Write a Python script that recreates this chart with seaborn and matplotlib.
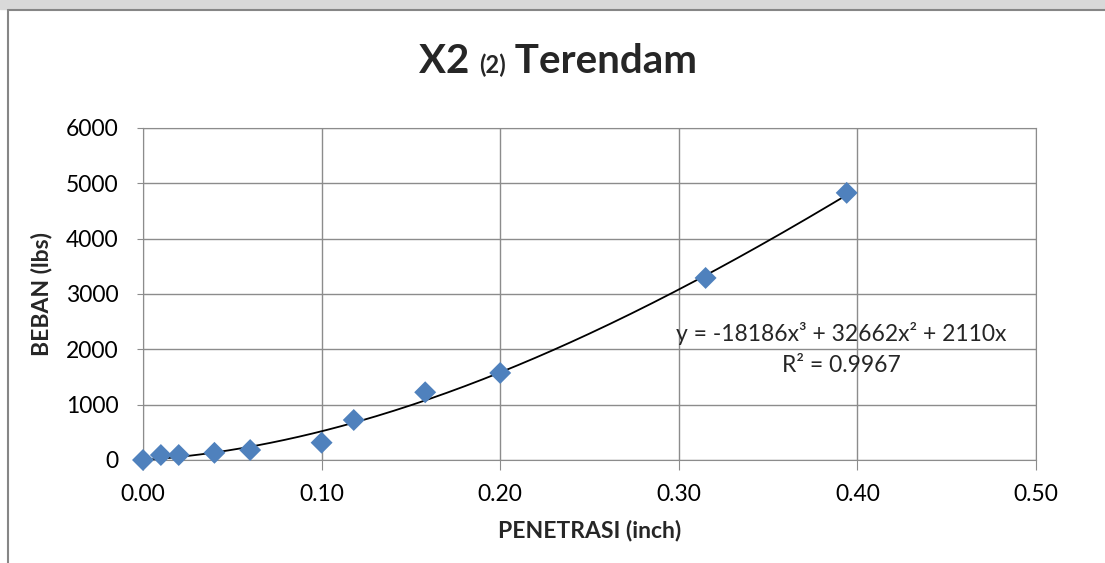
import numpy as np
import pandas as pd
import matplotlib
matplotlib.use("Agg")
import matplotlib.pyplot as plt
import seaborn as sns
from matplotlib.patches import Rectangle
from matplotlib.lines import Line2D

# --- data ---
penetrasi = [0.0, 0.01, 0.02, 0.04, 0.06, 0.10, 0.118, 0.158, 0.20, 0.315, 0.394]
beban = [0, 90, 90, 130, 180, 313, 723, 1224, 1573, 3290, 4828]

# trendline coefficients (as printed on the chart)
coef = [-18186, 32662, 2110, 0]
r2_text = "R² = 0.9967"
eq_text = "y = -18186x³ + 32662x² + 2110x"

x_ticks = [0.0, 0.1, 0.2, 0.3, 0.4, 0.5]
y_ticks = [0, 1000, 2000, 3000, 4000, 5000, 6000]

df = pd.DataFrame({"penetrasi": penetrasi, "beban": beban})
xs = np.linspace(0, max(penetrasi), 200)
trend = pd.DataFrame({"x": xs, "y": np.polyval(coef, xs)})

sns.set_style("white")
plt.rcParams["font.family"] = ["Lato", "DejaVu Sans"]

fig = plt.figure(figsize=(11.05, 5.63), dpi=100)
ax = fig.add_axes([143 / 1105, 1 - 460 / 563, (1036 - 143) / 1105, (460 - 128) / 563])

# outer frame like the excel chart area
fig.patches.append(Rectangle((0, 1 - 9 / 563), 1, 9 / 563, transform=fig.transFigure,
                             color="#d9d9d9", zorder=0))
fig.lines.append(Line2D([8 / 1105, 1], [1 - 10 / 563, 1 - 10 / 563], transform=fig.transFigure,
                        color="#868686", lw=1.5))
fig.lines.append(Line2D([8 / 1105, 8 / 1105], [0, 1 - 10 / 563], transform=fig.transFigure,
                        color="#868686", lw=1.5))

sns.lineplot(data=trend, x="x", y="y", ax=ax, color="black", lw=1.3, zorder=3)
sns.scatterplot(data=df, x="penetrasi", y="beban", ax=ax, marker="D", s=125,
                color="#4f81bd", edgecolor="none", zorder=4, clip_on=False)

ax.set_xlim(0, 0.5)
ax.set_ylim(0, 6000)
ax.set_xticks(x_ticks)
ax.set_yticks(y_ticks)
ax.set_xticklabels([f"{v:.2f}" for v in x_ticks])
ax.grid(True, color="#8c8c8c", lw=1)
for s in ax.spines.values():
    s.set_color("#8c8c8c")
ax.tick_params(axis="both", labelsize=16.5, colors="#8c8c8c", labelcolor="black",
               direction="out", bottom=True, left=True)
ax.tick_params(axis="x", length=7, pad=10)
ax.tick_params(axis="y", length=4.5, pad=13)
ax.set_xlabel("PENETRASI (inch)", fontsize=16.5, fontweight="bold")
ax.set_ylabel("BEBAN (lbs)", fontsize=16.5, fontweight="bold")
ax.xaxis.set_label_coords(0.5, -(520 - 460) / 332)
ax.xaxis.label.set_va("top")
ax.yaxis.set_label_coords(-(143 - 52) / 893, 0.5)
ax.yaxis.label.set_va("bottom")

ax.text(0.391, 2295, eq_text, fontsize=16.5, ha="center", va="center")
ax.text(0.391, 1700, r2_text, fontsize=16.5, ha="center", va="center")

# title with a smaller "(2)"
fig.canvas.draw()
r = fig.canvas.get_renderer()
parts = [("X2 ", 29), ("(2)", 17), (" Terendam", 29)]
texts = [fig.text(0, 1 - 73 / 563, p, fontsize=fs, fontweight="bold", ha="left", va="baseline")
         for p, fs in parts]
widths = [t.get_window_extent(r).width for t in texts]
x0 = 558 - sum(widths) / 2
for t, w in zip(texts, widths):
    t.set_x(x0 / 1105)
    x0 += w

fig.savefig("out.png", dpi=100)
